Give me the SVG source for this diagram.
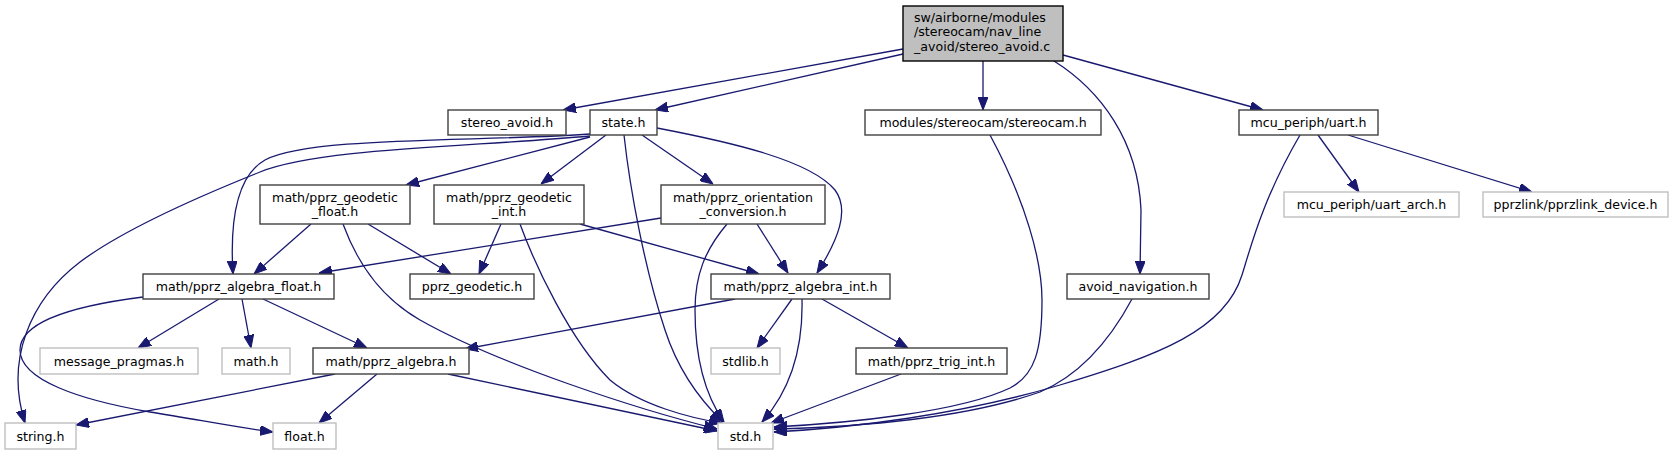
<svg xmlns="http://www.w3.org/2000/svg" width="1673" height="455" viewBox="0 0 1673 455">
<defs>
<style>
.node rect{fill:#ffffff;stroke:#404040;stroke-width:1.4}
.node.main rect{fill:#bfbfbf;stroke:#000000}
.node.ext rect{fill:#ffffff;stroke:#bfbfbf}
.node text{font-family:"DejaVu Sans","Liberation Sans",sans-serif;font-size:12.6px;fill:#000000;text-anchor:middle}
.node.main text{text-anchor:start}
.edges path{fill:none;stroke:#191970;stroke-width:1.3;marker-end:url(#arr)}
</style>
<marker id="arr" viewBox="0 0 13 10" refX="13" refY="5" markerWidth="13" markerHeight="10" orient="auto" markerUnits="userSpaceOnUse">
<path d="M0,0 L13,5 L0,10 z" fill="#191970" stroke="#191970" stroke-width="1"/>
</marker>
</defs>
<rect x="0" y="0" width="1673" height="455" fill="#ffffff"/>
<g class="edges" id="edges">
<path d="M903,49 L563,110"/>
<path d="M903,54 L655,110"/>
<path d="M983,61 L983,110"/>
<path d="M1063,55 L1263,110"/>
<path d="M1054,61 C1100,90 1138,140 1141,210 L1140,274"/>
<path d="M1318,135 L1359,192"/>
<path d="M1348,135 L1532,192"/>
<path d="M1300,135 C1262,200 1250,250 1242,275 C1225,330 1160,355 1060,385 C960,415 850,428 774,432"/>
<path d="M1132,299 C1110,340 1080,375 1040,392 C960,420 850,427 774,429"/>
<path d="M990,135 C1025,200 1042,260 1042,300 C1042,350 1035,375 1010,388 C960,412 850,423 774,427"/>
<path d="M590,137 L406,185"/>
<path d="M606,135 L541,184"/>
<path d="M642,135 L713,184"/>
<path d="M657,128 C730,142 810,160 835,190 C850,210 838,240 817,273"/>
<path d="M624,135 C630,190 645,270 665,330 C678,370 700,400 723,422"/>
<path d="M590,134 C480,142 310,136 265,160 C235,177 230,225 233,274"/>
<path d="M590,136 C470,147 320,148 260,172 C190,200 120,232 80,262 C30,300 5,360 25,423"/>
<path d="M727,224 C705,250 695,275 695,310 C695,360 705,395 724,422"/>
<path d="M520,224 C535,265 570,340 610,380 C640,405 690,418 722,423"/>
<path d="M343,224 C360,270 385,300 420,320 C500,365 640,410 717,429"/>
<path d="M580,224 L759,274"/>
<path d="M501,224 L479,274"/>
<path d="M757,224 L788,273"/>
<path d="M661,218 L319,273"/>
<path d="M311,224 L254,274"/>
<path d="M368,224 L451,274"/>
<path d="M802,299 C803,340 795,385 762,422"/>
<path d="M792,299 L757,348"/>
<path d="M822,299 L908,348"/>
<path d="M735,299 L465,349"/>
<path d="M901,374 L771,423"/>
<path d="M448,374 L717,431"/>
<path d="M219,299 L138,348"/>
<path d="M242,299 L251,348"/>
<path d="M263,299 L367,348"/>
<path d="M143,297 C80,305 20,320 20,350 C20,380 80,400 150,412 C200,420 240,428 273,432"/>
<path d="M335,374 L76,425"/>
<path d="M377,374 L319,423"/>
</g>
<g id="node1" class="node main"><rect x="903" y="6" width="160" height="55"/><text x="914" y="21.5">sw/airborne/modules</text><text x="914" y="36">/stereocam/nav_line</text><text x="914" y="50.5">_avoid/stereo_avoid.c</text></g>
<g id="node2" class="node"><rect x="448" y="110" width="118" height="25"/><text x="507" y="127">stereo_avoid.h</text></g>
<g id="node3" class="node"><rect x="590" y="110" width="67" height="25"/><text x="623.5" y="127">state.h</text></g>
<g id="node4" class="node"><rect x="865" y="110" width="236" height="25"/><text x="983" y="127">modules/stereocam/stereocam.h</text></g>
<g id="node5" class="node"><rect x="1239" y="110" width="139" height="25"/><text x="1308.5" y="127">mcu_periph/uart.h</text></g>
<g id="node6" class="node"><rect x="260" y="185" width="150" height="39"/><text x="335" y="201.5">math/pprz_geodetic</text><text x="335" y="216">_float.h</text></g>
<g id="node7" class="node"><rect x="434" y="185" width="150" height="39"/><text x="509" y="201.5">math/pprz_geodetic</text><text x="509" y="216">_int.h</text></g>
<g id="node8" class="node"><rect x="661" y="185" width="164" height="39"/><text x="743" y="201.5">math/pprz_orientation</text><text x="743" y="216">_conversion.h</text></g>
<g id="node9" class="node ext"><rect x="1284" y="192" width="175" height="25"/><text x="1371.5" y="209">mcu_periph/uart_arch.h</text></g>
<g id="node10" class="node ext"><rect x="1483" y="192" width="185" height="25"/><text x="1575.5" y="209">pprzlink/pprzlink_device.h</text></g>
<g id="node11" class="node"><rect x="143" y="274" width="191" height="25"/><text x="238.5" y="291">math/pprz_algebra_float.h</text></g>
<g id="node12" class="node"><rect x="410" y="274" width="124" height="25"/><text x="472" y="291">pprz_geodetic.h</text></g>
<g id="node13" class="node"><rect x="711" y="274" width="179" height="25"/><text x="800.5" y="291">math/pprz_algebra_int.h</text></g>
<g id="node14" class="node"><rect x="1067" y="274" width="142" height="25"/><text x="1138" y="291">avoid_navigation.h</text></g>
<g id="node15" class="node ext"><rect x="40" y="348" width="158" height="26"/><text x="119" y="365.5">message_pragmas.h</text></g>
<g id="node16" class="node ext"><rect x="222" y="348" width="68" height="26"/><text x="256" y="365.5">math.h</text></g>
<g id="node17" class="node"><rect x="313" y="348" width="156" height="26"/><text x="391" y="365.5">math/pprz_algebra.h</text></g>
<g id="node18" class="node ext"><rect x="711" y="348" width="69" height="26"/><text x="745.5" y="365.5">stdlib.h</text></g>
<g id="node19" class="node"><rect x="856" y="348" width="151" height="26"/><text x="931.5" y="365.5">math/pprz_trig_int.h</text></g>
<g id="node20" class="node ext"><rect x="5" y="423" width="71" height="26"/><text x="40.5" y="440.5">string.h</text></g>
<g id="node21" class="node ext"><rect x="273" y="423" width="63" height="26"/><text x="304.5" y="440.5">float.h</text></g>
<g id="node22" class="node ext"><rect x="718" y="423" width="55" height="26"/><text x="745.5" y="440.5">std.h</text></g>
</svg>
